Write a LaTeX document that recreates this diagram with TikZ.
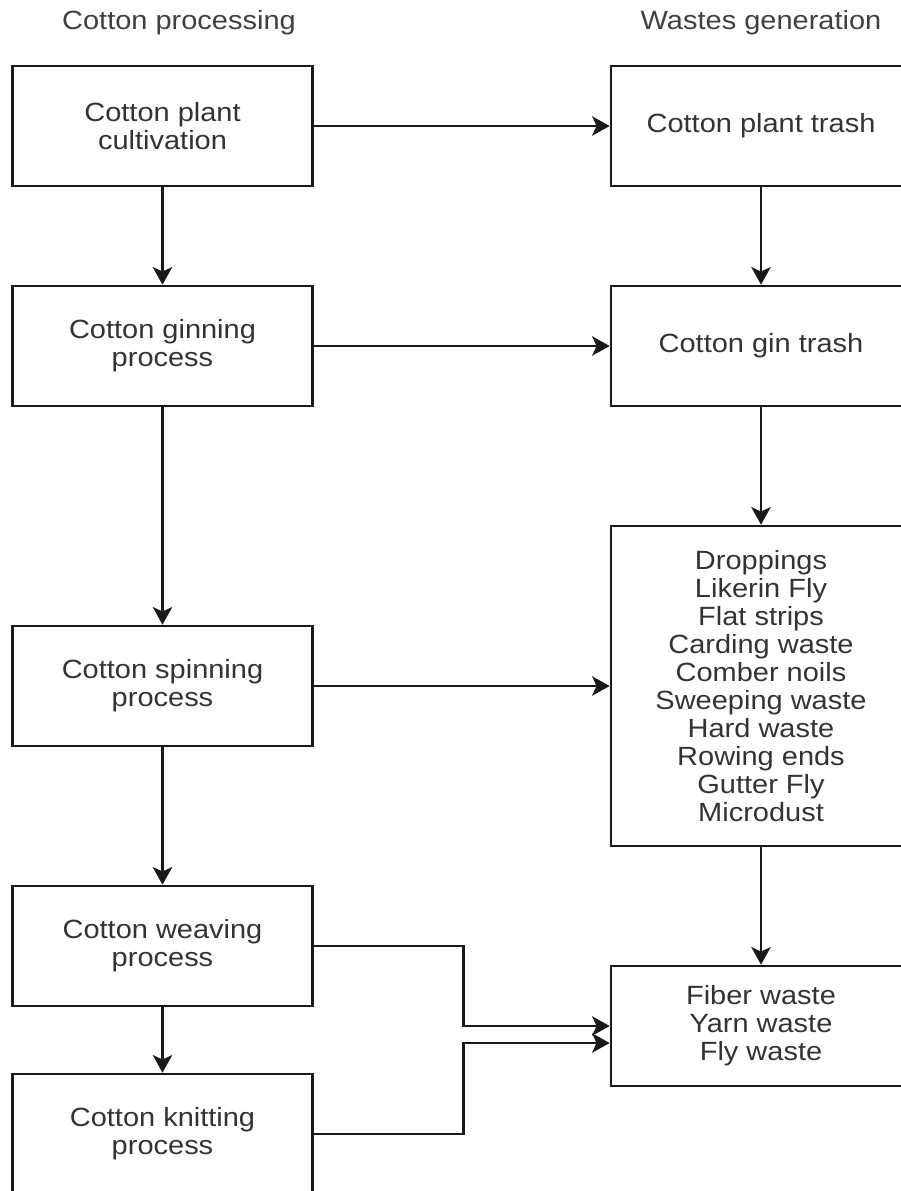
\documentclass[tikz,border=0pt]{standalone}
\usepackage{fontspec}
\setmainfont[FakeStretch=1.1]{Liberation Sans}
\usetikzlibrary{arrows.meta}
\tikzset{
  wastebox/.style={draw=black!90,line width=1.5pt,minimum width=6cm,minimum height=2.4cm,
    align=center,text=black!80,inner sep=0pt,
    font=\fontsize{15pt}{15.9pt}\selectfont},
  flow/.style={line width=1.5pt,draw=black!90,-{Stealth[length=10pt,width=11pt,inset=2.5pt]}},
  heading/.style={text=black!75,font=\fontsize{15pt}{15.9pt}\selectfont}
}
\newcommand\DrawStage[4]{
  \node[wastebox] (#1) at (#2,#3) {#4};
}
\begin{document}
\begin{tikzpicture}[x=0.02cm,y=-0.02cm]
\clip (0,0) rectangle (901,1191);
\node[heading] (headproc) at (179,23) {Cotton processing};
\node[heading] (headwaste) at (761,23) {Wastes generation};
  \DrawStage{cultivation}{162.5}{126}{Cotton plant\\cultivation}
  \DrawStage{ginning}{162.5}{346}{Cotton ginning\\process}
  \DrawStage{spinning}{162.5}{686}{Cotton spinning\\process}
  \DrawStage{weaving}{162.5}{946}{Cotton weaving\\process}
  \DrawStage{knitting}{162.5}{1134}{Cotton knitting\\process}
  \DrawStage{planttrash}{761}{126}{Cotton plant trash}
  \DrawStage{gintrash}{761}{346}{Cotton gin trash}
  \node[wastebox,minimum height=6.4cm] (spinwaste) at (761,686) {Droppings\\Likerin Fly\\Flat strips\\Carding waste\\Comber noils\\Sweeping waste\\Hard waste\\Rowing ends\\Gutter Fly\\Microdust};
  \DrawStage{fiberwaste}{761}{1026}{Fiber waste\\Yarn waste\\Fly waste}
\draw[flow] (cultivation) -- (ginning);
\draw[flow] (ginning) -- (spinning);
\draw[flow] (spinning) -- (weaving);
\draw[flow] (weaving) -- (knitting);
\draw[flow] (cultivation) -- (planttrash);
\draw[flow] (ginning) -- (gintrash);
\draw[flow] (spinning) -- (spinwaste);
\draw[flow] (planttrash) -- (gintrash);
\draw[flow] (gintrash) -- (spinwaste);
\draw[flow] (spinwaste) -- (fiberwaste);
\draw[flow] (weaving.east) -- ++(150,0) |- (fiberwaste.west);
\draw[flow] (knitting.east) -- ++(150,0) |- ([yshift=-0.34cm]fiberwaste.west);
\end{tikzpicture}
\end{document}
